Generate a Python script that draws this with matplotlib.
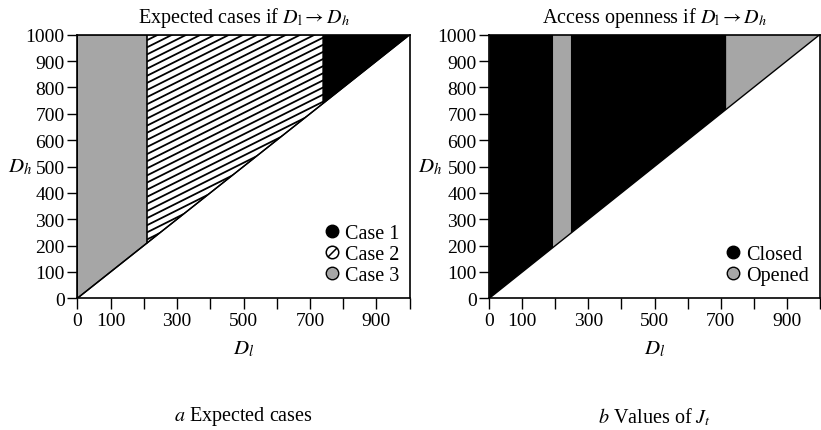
import matplotlib
matplotlib.use('Agg')
import matplotlib.pyplot as plt
import numpy as np
from matplotlib.patches import Polygon
from matplotlib.lines import Line2D
from matplotlib.path import Path

plt.rcParams['font.family'] = ['Liberation Serif', 'DejaVu Serif']
plt.rcParams['mathtext.fontset'] = 'stix'

# demand range (both axes)
d_max = 1000
xticks = np.arange(0, 1001, 100)
xticklabels = ['0', '100', '', '300', '', '500', '', '700', '', '900', '']
yticks = np.arange(0, 1001, 100)

# (a) expected cases along D_l
case_bounds = [0, 210, 740, 1000]
case_names = ['Case 3', 'Case 2', 'Case 1']

# (b) access openness along D_l
jt_bounds = [0, 194, 247, 718, 1000]
jt_states = ['Closed', 'Opened', 'Closed', 'Opened']

gray = '#a6a6a6'
W, H = 821, 431

fig = plt.figure(figsize=(W / 100, H / 100), dpi=100)
ax1 = fig.add_axes([77.3 / W, 1 - 299.3 / H, 332.4 / W, 263.6 / H])
ax2 = fig.add_axes([489.3 / W, 1 - 299.3 / H, 330.4 / W, 263.6 / H])


def region(a, b):
    return [(a, a), (b, b), (b, d_max), (a, d_max)]


def setup(ax, title, ylab_x):
    ax.set_xlim(0, d_max)
    ax.set_ylim(0, d_max)
    ax.set_xticks(xticks)
    ax.set_xticklabels(xticklabels)
    ax.set_yticks(yticks)
    ax.tick_params(direction='out', length=8, width=1, labelsize=14, pad=2)
    ax.tick_params(axis='y', length=7)
    for s in ax.spines.values():
        s.set_linewidth(1.2)
    ax.set_title(title, fontsize=14.5, pad=9)
    ax.set_xlabel('$D_l$', fontsize=15)
    ax.xaxis.set_label_coords(0.5, -0.192)
    ax.xaxis.label.set_va('center')
    ax.set_ylabel('$D_h$', fontsize=15, rotation=0, va='center', ha='center')
    ax.yaxis.set_label_coords(ylab_x, 0.5)


def legend(ax, handles, labels):
    ax.legend(handles, labels, loc='lower right', bbox_to_anchor=(0.968, 0.05),
              frameon=False, fontsize=14.5, handlelength=0.7, handletextpad=0.3,
              labelspacing=0.1, borderpad=0, borderaxespad=0)


# ---- panel a ----
setup(ax1, r'Expected cases if $D_\mathrm{l} \rightarrow D_h$', -0.172)
for (a, b), name in zip(zip(case_bounds[:-1], case_bounds[1:]), case_names):
    if name == 'Case 3':
        ax1.add_patch(Polygon(region(a, b), closed=True, fc=gray, ec='black', lw=1))
    elif name == 'Case 1':
        ax1.add_patch(Polygon(region(a, b), closed=True, fc='black', ec='black', lw=1))
    else:
        poly = Polygon(region(a, b), closed=True, fc='white', ec='black', lw=1)
        ax1.add_patch(poly)
        # slanted hatch lines, clipped to the region
        slope = 0.63
        for c in np.arange(-800, 1100, 27):
            ln, = ax1.plot([a, b], [slope * a + c, slope * b + c], color='black', lw=1.3)
            ln.set_clip_path(poly)
ax1.plot([0, d_max], [0, d_max], color='black', lw=1)

hatch_marker = Path.make_compound_path(
    Path.unit_circle(),
    Path([(0.7, 0.7), (-0.7, -0.7)], [Path.MOVETO, Path.LINETO]))
h1 = [Line2D([], [], ls='none', marker='o', ms=9, mfc='black', mec='black'),
      Line2D([], [], ls='none', marker=hatch_marker, ms=9, mfc='white', mec='black', mew=1.1),
      Line2D([], [], ls='none', marker='o', ms=9, mfc=gray, mec='black')]
legend(ax1, h1, ['Case 1', 'Case 2', 'Case 3'])

# ---- panel b ----
setup(ax2, r'Access openness if $D_\mathrm{l} \rightarrow D_h$', -0.18)
for (a, b), st in zip(zip(jt_bounds[:-1], jt_bounds[1:]), jt_states):
    fc = 'black' if st == 'Closed' else gray
    ax2.add_patch(Polygon(region(a, b), closed=True, fc=fc, ec='none'))
ax2.plot([0, d_max], [0, d_max], color='black', lw=1)

h2 = [Line2D([], [], ls='none', marker='o', ms=9, mfc='black', mec='black'),
      Line2D([], [], ls='none', marker='o', ms=9, mfc=gray, mec='black')]
legend(ax2, h2, ['Closed', 'Opened'])

fig.text(243.5 / W, 1 - 417 / H, r'$a$ Expected cases', fontsize=14.5, ha='center', va='center')
fig.text(654.5 / W, 1 - 417 / H, r'$b$ Values of $J_t$', fontsize=14.5, ha='center', va='center')

fig.savefig('out.png', dpi=100)
